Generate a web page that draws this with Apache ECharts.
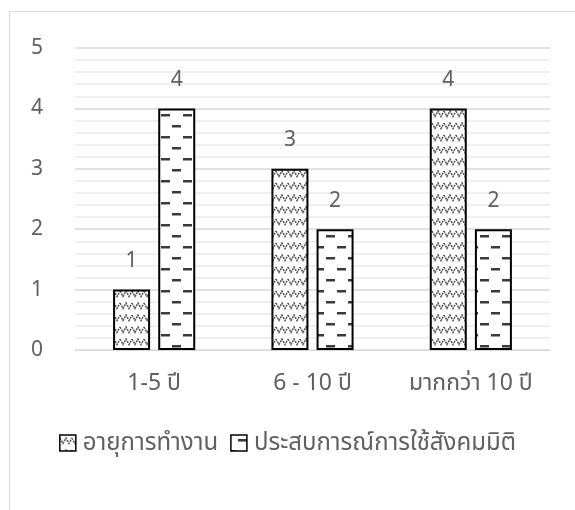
<!DOCTYPE html>
<html>
<head>
<meta charset="utf-8">
<script src="https://cdn.jsdelivr.net/npm/echarts@6/dist/echarts.min.js"></script>
<style>
html,body{margin:0;padding:0;background:#fff;}
#chart{width:575px;height:510px;}
</style>
</head>
<body>
<div id="chart"></div>
<script>
var categories = ['1-5 ปี', '6 - 10 ปี', 'มากกว่า 10 ปี'];
var seriesNames = ['อายุการทำงาน', 'ประสบการณ์การใช้สังคมมิติ'];
var workAge = [1, 3, 4];
var experience = [4, 2, 2];
var yTicks = [0, 1, 2, 3, 4, 5];

function wavePattern() {
  var c = document.createElement('canvas');
  c.width = 12; c.height = 12;
  var g = c.getContext('2d');
  g.fillStyle = '#ffffff'; g.fillRect(0, 0, 12, 12);
  g.strokeStyle = '#505050'; g.lineWidth = 1.5;
  g.setLineDash([2, 1]);
  g.beginPath();
  g.moveTo(0, 3);
  g.lineTo(3, 8.5);
  g.lineTo(6, 3);
  g.lineTo(9, 8.5);
  g.lineTo(12, 3);
  g.stroke();
  return c;
}
function dashPattern() {
  var c = document.createElement('canvas');
  c.width = 22; c.height = 22;
  var g = c.getContext('2d');
  g.fillStyle = '#ffffff'; g.fillRect(0, 0, 22, 22);
  g.fillStyle = '#3a3a3a';
  g.fillRect(7, 4, 9, 2.5);
  g.fillRect(18, 15, 9, 2.5);
  g.fillRect(-4, 15, 9, 2.5);
  return c;
}

var chart = echarts.init(document.getElementById('chart'), null, {renderer: 'canvas'});
var font = '"Noto Sans", "Noto Sans Thai", "DejaVu Sans", sans-serif';
var txt = '#606060';
var fs = 21;
chart.setOption({
  animation: false,
  textStyle: {fontFamily: font},
  graphic: [{
    type: 'rect', shape: {x: 9.5, y: 11.5, width: 700, height: 700},
    style: {fill: 'none', stroke: '#d9d9d9', lineWidth: 1}, silent: true, z: -10
  }],
  grid: {left: 75, right: 25, top: 48, bottom: 160, containLabel: false},
  legend: {
    bottom: 50, left: 'center',
    itemWidth: 16, itemHeight: 16, itemGap: 12,
    icon: 'rect',
    textStyle: {fontSize: 24, color: txt, fontFamily: font, padding: [0, 0, 0, 2]},
    data: [
      {name: seriesNames[0], icon: 'rect', itemStyle: {color: {image: wavePattern(), repeat: 'repeat'}, borderColor: '#000', borderWidth: 1.5}},
      {name: seriesNames[1], icon: 'rect', itemStyle: {color: {image: dashPattern(), repeat: 'repeat'}, borderColor: '#000', borderWidth: 1.5}}
    ]
  },
  xAxis: {
    type: 'category', data: categories,
    axisLine: {lineStyle: {color: '#d9d9d9', width: 1}},
    axisTick: {show: false},
    axisLabel: {fontSize: 23, color: txt, margin: 22, fontFamily: font, interval: 0, hideOverlap: false}
  },
  yAxis: {
    type: 'value', min: yTicks[0], max: yTicks[yTicks.length - 1], interval: 1,
    axisLine: {show: false}, axisTick: {show: false},
    axisLabel: {fontSize: fs, color: txt, margin: 32, fontFamily: font},
    splitLine: {lineStyle: {color: '#d9d9d9', width: 1.5}},
    minorTick: {show: false, splitNumber: 5},
    minorSplitLine: {show: true, lineStyle: {color: '#efefef', width: 2}}
  },
  series: [
    {
      name: seriesNames[0], type: 'bar', data: workAge,
      barWidth: 37, barGap: '22%',
      itemStyle: {color: {image: wavePattern(), repeat: 'repeat'}, borderColor: '#000', borderWidth: 2},
      label: {show: true, position: 'top', distance: 18, fontSize: fs, color: txt, fontFamily: font}
    },
    {
      name: seriesNames[1], type: 'bar', data: experience,
      barWidth: 37,
      itemStyle: {color: {image: dashPattern(), repeat: 'repeat'}, borderColor: '#000', borderWidth: 2},
      label: {show: true, position: 'top', distance: 18, fontSize: fs, color: txt, fontFamily: font}
    }
  ]
});
</script>
</body>
</html>
